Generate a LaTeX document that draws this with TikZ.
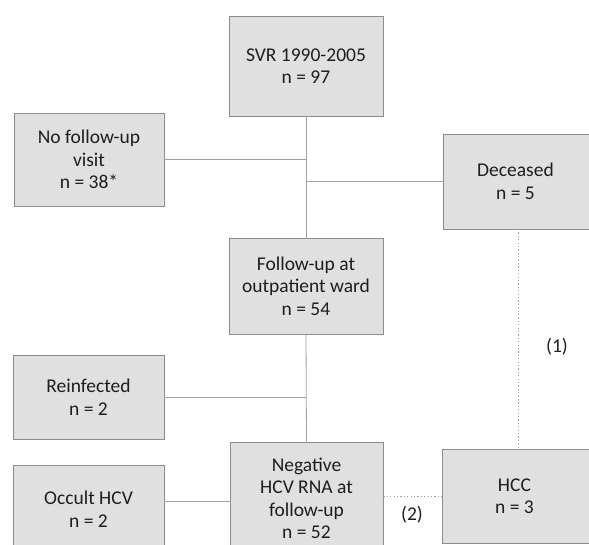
\documentclass[tikz,border=0pt]{standalone}
\usepackage{fontspec}
\setmainfont{Carlito}
\definecolor{boxfill}{HTML}{E0E0E0}
\definecolor{boxline}{HTML}{8C8C8C}
\definecolor{conn}{HTML}{A0A0A0}
\definecolor{txt}{HTML}{1E1E1E}
\begin{document}
\begin{tikzpicture}[x=1pt,y=-1pt,
  flowbox/.style={draw=boxline, line width=0.9pt, fill=boxfill, inner sep=0pt, align=center,
    text=txt, font=\fontsize{19.5}{22.5}\selectfont},
  link/.style={draw=conn, line width=0.8pt},
  dotlink/.style={draw=conn, line width=0.9pt, dash pattern=on 1.2pt off 2.2pt},
  lbl/.style={text=txt, font=\fontsize{19.5}{22.5}\selectfont, inner sep=0pt}]
\useasboundingbox (0,0) rectangle (589,545);
\clip (0,0) rectangle (589,545);
\node[flowbox, minimum width=154pt, minimum height=100pt] (svr) at (306,66) {SVR 1990-2005\\n = 97};
\node[flowbox, minimum width=150pt, minimum height=93pt] (nofu) at (89,159.5) {No follow-up\\visit\\n = 38*};
\node[flowbox, minimum width=152pt, minimum height=95pt, anchor=west] (dec) at (443,181.5) {\hspace*{-8pt}Deceased\\\hspace*{-8pt}n = 5};
\node[flowbox, minimum width=154pt, minimum height=96pt] (fu) at (306,286) {Follow-up at\\outpatient ward\\n = 54};
\node[flowbox, minimum width=151pt, minimum height=84pt] (reinf) at (88.5,397) {Reinfected\\n = 2};
\node[flowbox, minimum width=153pt, minimum height=113pt] (neg) at (306.5,498.5) {Negative\\HCV RNA at\\follow-up\\n = 52};
\node[flowbox, minimum width=151pt, minimum height=88pt] (occ) at (88.5,509) {Occult HCV\\n = 2};
\node[flowbox, minimum width=152pt, minimum height=94pt, anchor=west] (hcc) at (442,496) {\hspace*{-8pt}HCC\\\hspace*{-8pt}n = 3};
\coordinate (j1) at (306,159.5);
\coordinate (j2) at (306,181.5);
\coordinate (j3) at (306,397);
\draw[link] (svr.south) -- (fu.north);
\draw[link] (nofu.east) -- (j1);
\draw[link] (j2) -- (dec.west);
\draw[link] (fu.south) -- (neg.north);
\draw[link] (reinf.east) -- (j3);
\draw[link] (occ.east |- 0,501) -- (neg.west |- 0,501);
\draw[dotlink] (518,229) -- (518,449);
\draw[dotlink] (neg.east |- hcc.west) -- (hcc.west);
\node[lbl] (l1) at (557,347) {(1)};
\node[lbl] (l2) at (412,515) {(2)};
\end{tikzpicture}
\end{document}
